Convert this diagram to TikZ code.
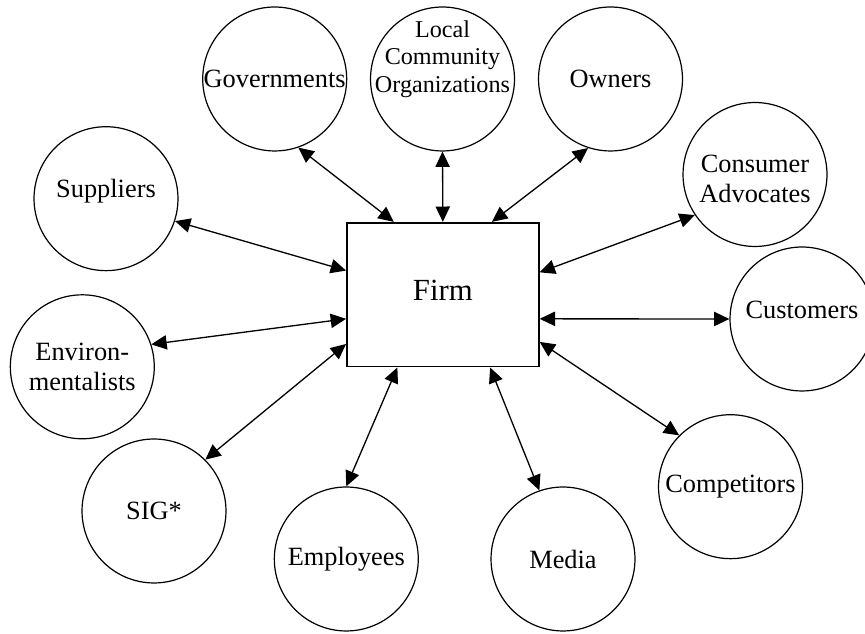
\documentclass[tikz,border=0pt]{standalone}
\usepackage{fontspec}
\setmainfont{Liberation Serif}
\usetikzlibrary{arrows.meta}

\begin{document}
\begin{tikzpicture}[
    x=0.016cm, y=0.016cm,
    party/.style={circle, draw, line width=0.55pt, minimum size=2.304cm,
                  inner sep=0pt, align=center, font=\fontsize{12}{14}\selectfont},
    firmbox/.style={rectangle, draw, line width=0.75pt, minimum width=3.072cm,
                    minimum height=2.304cm, inner sep=0pt, font=\fontsize{14}{16}\selectfont},
    link/.style={{Triangle[length=7pt,width=6.5pt]}-{Triangle[length=7pt,width=6.5pt]},
                 line width=0.6pt}
  ]
    \useasboundingbox (0,0) rectangle (865,634);

    \node[firmbox, text depth=4pt] (firm) at (442.85,339.3) {Firm};

    % stakeholders round the firm
    \node[party] (gov) at (274.7,555) {Governments};
    \node[party, label={[align=center, inner sep=0pt, yshift=9pt,
                         font=\fontsize{11}{12.5}\selectfont]center:Local\\Community\\Organizations}]
                 (loc) at (442.5,555) {};
    \node[party] (own) at (610.5,555) {Owners};
    \node[party, text depth=9pt] (sup) at (106,435.3) {Suppliers};
    \node[party, text height=26pt] (con) at (755,459.5) {Consumer\\Advocates};
    \node[party, text depth=8pt] (cus) at (802,315) {Customers};
    \node[party] (env) at (82.3,267.2) {Environ-\\mentalists};
    \node[party] (sig) at (154,123) {SIG*};
    \node[party] (emp) at (346.3,75) {Employees};
    \node[party] (med) at (563,75) {Media};
    \node[party] (com) at (730.5,147.3) {Competitors};

    \draw[link] (firm.124.1) -- (gov.-71);
    \draw[link] (firm.90)    -- (loc.-90);
    \draw[link] (firm.56.8)  -- (own.-108.6);
    \draw[link] (firm.13.4)  -- (con.214);
    \draw[link] (firm.-14.3) -- (cus.180);
    \draw[link] (firm.-26.7) -- (com.135);
    \draw[link] (firm.-57.3) -- (med.109);
    \draw[link] (firm.-122.5) -- (emp.90);
    \draw[link] (firm.207.2) -- (sig.45);
    \draw[link] (firm.194.5) -- (env.18);
    \draw[link] (firm.166)   -- (sup.-18);
\end{tikzpicture}
\end{document}
